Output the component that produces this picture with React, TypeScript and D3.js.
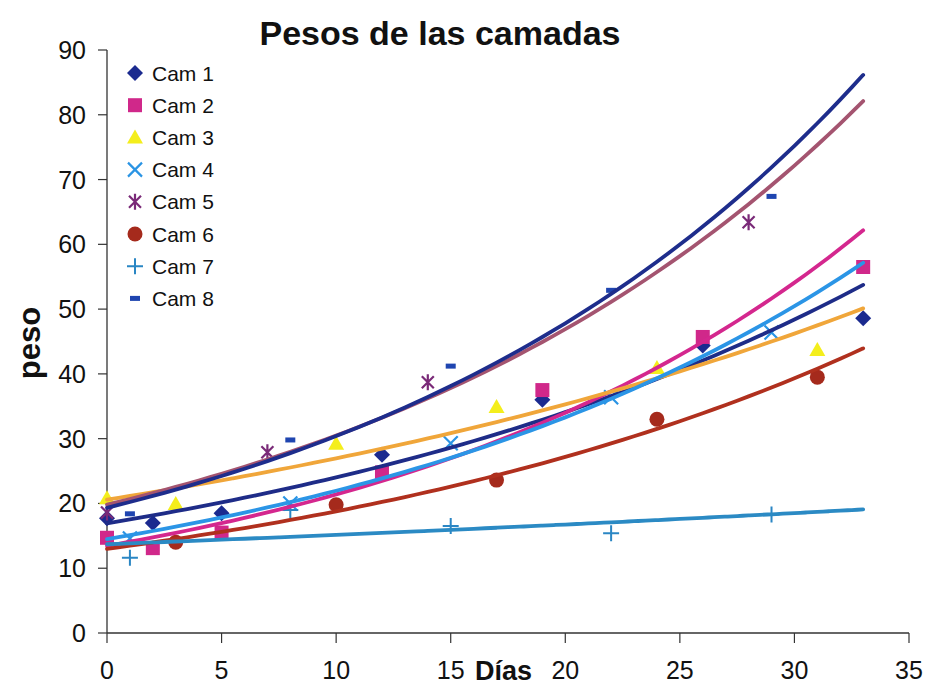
import React from "react";
import * as d3 from "d3";

const TITLE = "Pesos de las camadas";
const X_LABEL = "Días";
const Y_LABEL = "peso";
const X_TICKS = [0, 5, 10, 15, 20, 25, 30, 35];
const Y_TICKS = [0, 10, 20, 30, 40, 50, 60, 70, 80, 90];
const TREND_RANGE = [0, 33];

const CAM1_DAYS = [0, 2, 5, 12, 19, 26, 33];
const CAM1 = [17.7, 17, 18.5, 27.5, 36, 44.4, 48.6];
const CAM2_DAYS = [0, 2, 5, 12, 19, 26, 33];
const CAM2 = [14.7, 13.1, 15.5, 24.8, 37.5, 45.7, 56.5];
const CAM3_DAYS = [0, 3, 10, 17, 24, 31];
const CAM3 = [20.8, 19.9, 29.2, 34.9, 40.9, 43.7];
const CAM4_DAYS = [1, 8, 15, 22, 29];
const CAM4 = [14.6, 20, 29.3, 36.4, 46.4];
const CAM5_DAYS = [0, 7, 14, 28];
const CAM5 = [18.6, 27.9, 38.7, 63.4];
const CAM6_DAYS = [3, 10, 17, 24, 31];
const CAM6 = [14, 19.8, 23.6, 33, 39.5];
const CAM7_DAYS = [1, 8, 15, 22, 29];
const CAM7 = [11.6, 19, 16.5, 15.4, 18.3];
const CAM8_DAYS = [1, 8, 15, 22, 29];
const CAM8 = [18.4, 29.8, 41.2, 52.9, 67.4];

const NAMES = ["Cam 1", "Cam 2", "Cam 3", "Cam 4", "Cam 5", "Cam 6", "Cam 7", "Cam 8"];
const MARKER_COLORS = ["#1b2a8f", "#d0288a", "#f4ee1c", "#2a94e4", "#7a2a78", "#a52a1c", "#2a86c4", "#1f45b0"];
const TREND_COLORS = ["#1e2c88", "#d4278e", "#f0a63a", "#2b95e6", "#a45470", "#b0301e", "#2b8ac4", "#1e2d8c"];
const SHAPES = ["diamond", "square", "triangle", "x", "star", "circle", "plus", "dash"];

const SERIES = [
  [CAM1_DAYS, CAM1],
  [CAM2_DAYS, CAM2],
  [CAM3_DAYS, CAM3],
  [CAM4_DAYS, CAM4],
  [CAM5_DAYS, CAM5],
  [CAM6_DAYS, CAM6],
  [CAM7_DAYS, CAM7],
  [CAM8_DAYS, CAM8],
];

const W = 926;
const H = 689;
const FONT = "'Liberation Sans', Arial, Helvetica, sans-serif";

function expFit(xs: number[], ys: number[]) {
  const ls = ys.map((v) => Math.log(v));
  const mx = d3.mean(xs) as number;
  const ml = d3.mean(ls) as number;
  let sxy = 0, sxx = 0;
  xs.forEach((x, i) => {
    sxy += (x - mx) * (ls[i] - ml);
    sxx += (x - mx) * (x - mx);
  });
  const b = sxy / sxx;
  const a = Math.exp(ml - b * mx);
  return (x: number) => a * Math.exp(b * x);
}

function Marker({ shape, color, x, y }: { shape: string; color: string; x: number; y: number }) {
  const t = `translate(${x},${y})`;
  switch (shape) {
    case "diamond":
      return <path transform={t} d="M0,-8L8,0L0,8L-8,0Z" fill={color} />;
    case "square":
      return <rect x={x - 7} y={y - 7} width={14} height={14} fill={color} />;
    case "triangle":
      return <path transform={t} d="M0,-8L8,6L-8,6Z" fill={color} />;
    case "circle":
      return <circle cx={x} cy={y} r={7.5} fill={color} />;
    case "x":
      return <path transform={t} d="M-7,-7L7,7M-7,7L7,-7" stroke={color} strokeWidth={2.2} fill="none" />;
    case "star":
      return <path transform={t} d="M-6,-6L6,6M-6,6L6,-6M0,-8L0,8" stroke={color} strokeWidth={2.2} fill="none" />;
    case "plus":
      return <path transform={t} d="M-8,0L8,0M0,-8L0,8" stroke={color} strokeWidth={2} fill="none" />;
    case "dash":
      return <rect x={x - 5} y={y - 2.5} width={10} height={5} fill={color} />;
    default:
      return null;
  }
}

export default function App() {
  const x = d3.scaleLinear().domain([0, 35]).range([107, 909]);
  const y = d3.scaleLinear().domain([0, 90]).range([633, 50]);

  const trendXs = d3.range(TREND_RANGE[0], TREND_RANGE[1] + 0.001, 0.5);
  const line = d3
    .line<[number, number]>()
    .x((d) => x(d[0]))
    .y((d) => y(d[1]))
    .curve(d3.curveMonotoneX);

  return (
    <svg
      width={W}
      height={H}
      style={{ position: "absolute", left: 0, top: 0, background: "#fff" }}
      fontFamily={FONT}
    >
      <rect width={W} height={H} fill="#fff" />
      <text x={440} y={45} textAnchor="middle" fontSize={34} fontWeight="bold" fill="#111">
        {TITLE}
      </text>

      {/* axes */}
      <line x1={x(0)} x2={x(0)} y1={y(90)} y2={y(0)} stroke="#333" strokeWidth={1.3} />
      <line x1={x(0)} x2={x(35)} y1={y(0)} y2={y(0)} stroke="#333" strokeWidth={1.3} />
      {Y_TICKS.map((t) => (
        <g key={"y" + t}>
          <line x1={x(0) - 9} x2={x(0)} y1={y(t)} y2={y(t)} stroke="#333" strokeWidth={1.2} />
          <text x={x(0) - 21} y={y(t)} dy="0.36em" textAnchor="end" fontSize={25} fill="#111">
            {t}
          </text>
        </g>
      ))}
      {X_TICKS.map((t) => (
        <g key={"x" + t}>
          <line x1={x(t)} x2={x(t)} y1={y(0)} y2={y(0) + 10} stroke="#333" strokeWidth={1.2} />
          <text x={x(t)} y={679} textAnchor="middle" fontSize={25} fill="#111">
            {t}
          </text>
        </g>
      ))}
      <text x={475} y={680} textAnchor="start" fontSize={27} fontWeight="bold" fill="#111">
        {X_LABEL}
      </text>
      <text
        transform={`translate(40,343) rotate(-90)`}
        textAnchor="middle"
        fontSize={31}
        fontWeight="bold"
        fill="#111"
      >
        {Y_LABEL}
      </text>

      {/* markers */}
      {SERIES.map(([xs, ys], si) =>
        xs.map((d, i) => (
          <Marker key={`m${si}-${i}`} shape={SHAPES[si]} color={MARKER_COLORS[si]} x={x(d)} y={y(ys[i])} />
        ))
      )}

      {/* exponential trendlines */}
      {SERIES.map(([xs, ys], si) => {
        const f = expFit(xs, ys);
        const pts = trendXs.map((t) => [t, f(t)] as [number, number]);
        return (
          <path
            key={`t${si}`}
            d={line(pts) as string}
            fill="none"
            stroke={TREND_COLORS[si]}
            strokeWidth={3.8}
            strokeLinecap="round"
          />
        );
      })}

      {/* legend */}
      {NAMES.map((n, i) => {
        const ly = 73 + i * 32.2;
        return (
          <g key={"l" + i}>
            <Marker shape={SHAPES[i]} color={MARKER_COLORS[i]} x={135} y={ly} />
            <text x={152} y={ly} dy="0.36em" fontSize={21} fill="#111">
              {n}
            </text>
          </g>
        );
      })}
    </svg>
  );
}
